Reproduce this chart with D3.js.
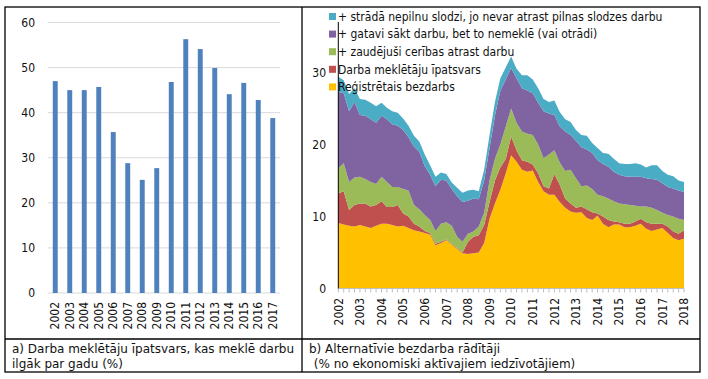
<!DOCTYPE html>
<html>
<head>
<meta charset="utf-8">
<script src="https://cdn.jsdelivr.net/npm/d3@7"></script>
<style>
  body { margin: 0; background: #fff; }
  text { font-family: "DejaVu Sans Condensed", "DejaVu Sans", sans-serif; font-stretch: condensed; fill: #111; }
  .cap { font-family: "DejaVu Sans", sans-serif; font-stretch: normal; }
</style>
</head>
<body>
<div id="chart"></div>
<script>
const width = 708;
const height = 379;

// a) share of jobseekers looking for work longer than a year (%)
const barYears = ["2002", "2003", "2004", "2005", "2006", "2007", "2008", "2009",
                  "2010", "2011", "2012", "2013", "2014", "2015", "2016", "2017"];
const longTermShare = [47.0, 45.0, 45.0, 45.7, 35.7, 28.8, 25.1, 27.7,
                       46.8, 56.3, 54.1, 49.9, 44.1, 46.6, 42.8, 38.8];
const barTicks = [0, 10, 20, 30, 40, 50, 60];

// b) alternative unemployment measures, quarterly 2002Q1 .. 2018Q1
const areaYears = ["2002", "2003", "2004", "2005", "2006", "2007", "2008", "2009", "2010",
                   "2011", "2012", "2013", "2014", "2015", "2016", "2017", "2018"];
const areaTicks = [0, 10, 20, 30];
const registered = [9.1, 8.9, 8.7, 8.6, 8.8, 8.6, 8.4, 8.7, 9.0, 9.0, 8.8, 8.6, 8.7, 8.4, 8.1, 7.9,
                    7.7, 7.5, 6.0, 6.3, 6.7, 6.1, 5.5, 4.9, 4.8, 4.9, 5.0, 6.3, 9.7, 11.8, 13.7, 16.0,
                    18.5, 17.6, 16.5, 16.2, 16.4, 14.8, 13.5, 13.0, 13.0, 12.0, 11.2, 10.7, 10.5, 10.6, 9.8, 9.5,
                    10.1, 9.0, 8.5, 8.9, 8.9, 8.5, 8.5, 8.7, 9.0, 8.3, 8.0, 8.2, 8.4, 7.7, 7.0, 6.7,
                    6.9];
const jobseekers = [4.1, 4.6, 2.2, 3.0, 3.0, 3.2, 3.0, 2.9, 3.1, 2.3, 2.5, 3.0, 1.7, 1.6, 0.9, 0.7,
                    0.3, 0.2, 0.2, 0.2, 0.1, 0.1, 0.1, 0.1, 1.7, 2.3, 2.4, 2.5, 2.3, 3.2, 3.1, 2.0,
                    2.6, 1.6, 1.3, 1.4, 0.8, 1.2, 0.7, 0.9, 2.9, 2.4, 1.3, 1.1, 0.7, 0.8, 1.2, 1.1,
                    0.3, 1.0, 1.0, 0.4, 0.3, 0.5, 0.5, 0.6, 0.7, 0.9, 1.0, 0.8, 0.6, 0.9, 0.9, 0.9,
                    1.2];
const discouraged = [3.5, 3.9, 3.9, 3.8, 3.7, 3.4, 3.4, 2.9, 3.4, 3.5, 2.8, 2.5, 3.4, 3.6, 2.6, 2.4,
                     2.2, 1.8, 1.8, 2.5, 2.4, 2.5, 1.6, 1.5, 1.1, 0.7, 1.2, 1.7, 3.0, 3.0, 3.2, 4.5,
                     3.9, 3.8, 4.0, 3.9, 4.1, 4.0, 3.9, 4.7, 3.3, 3.1, 3.8, 4.7, 4.1, 2.8, 3.3, 3.2,
                     2.6, 2.8, 3.0, 2.8, 2.6, 2.7, 2.6, 2.2, 1.7, 2.2, 2.2, 1.9, 1.5, 1.6, 2.1, 2.1,
                     1.4];
const readyNotSeeking = [10.6, 9.7, 9.8, 10.5, 8.6, 8.8, 8.7, 8.5, 8.5, 8.7, 8.7, 8.5, 8.2, 7.4, 8.1, 8.0,
                         6.8, 6.3, 6.2, 6.1, 5.8, 5.1, 5.6, 5.5, 4.6, 4.6, 3.8, 4.5, 4.5, 6.0, 7.5, 6.5,
                         5.6, 6.2, 6.0, 6.0, 5.8, 5.8, 6.5, 5.7, 4.9, 5.0, 5.5, 4.8, 5.2, 5.4, 5.0, 5.0,
                         4.8, 4.5, 4.4, 4.1, 4.0, 3.9, 3.9, 4.0, 4.1, 3.9, 4.0, 4.2, 4.1, 3.9, 3.9, 3.9,
                         3.9];
const underemployed = [2.1, 1.8, 2.4, 1.9, 2.2, 2.2, 2.3, 2.3, 1.8, 1.6, 1.8, 1.8, 1.6, 1.6, 1.5, 1.4,
                       1.6, 1.3, 1.3, 1.0, 0.9, 0.9, 1.2, 1.3, 1.4, 1.2, 1.1, 1.5, 1.8, 1.9, 1.7, 1.7,
                       1.6, 1.3, 1.8, 2.1, 1.9, 2.0, 1.7, 1.6, 2.0, 2.0, 1.7, 1.8, 1.5, 1.7, 1.9, 1.4,
                       1.7, 1.5, 1.8, 1.8, 1.6, 1.7, 1.8, 1.9, 1.7, 1.5, 1.9, 2.0, 1.7, 1.7, 1.7, 1.4,
                       1.4];
const seriesKeys = ["registered", "jobseekers", "discouraged", "readyNotSeeking", "underemployed"];
const seriesNames = ["Reģistrētais bezdarbs", "Darba meklētāju īpatsvars",
                     "+ zaudējuši cerības atrast darbu",
                     "+ gatavi sākt darbu, bet to nemeklē (vai otrādi)",
                     "+ strādā nepilnu slodzi, jo nevar atrast pilnas slodzes darbu"];
const seriesColors = ["#FFC000", "#C0504D", "#9BBB59", "#8064A2", "#4BACC6"];

const svg = d3.select("#chart")
    .append("svg")
    .attr("width", width)
    .attr("height", height);

// ---------- a) bars ----------
const xBar = d3.scaleBand().domain(barYears).range([48, 280])
    .paddingInner(0.66).paddingOuter(0.33);
const yBar = d3.scaleLinear().domain([0, 60]).range([293, 22.5]);

svg.append("g").selectAll("line")
    .data(barTicks)
    .join("line")
    .attr("x1", 48).attr("x2", 280)
    .attr("y1", d => yBar(d)).attr("y2", d => yBar(d))
    .attr("stroke", "#D9D9D9").attr("stroke-width", 1);

svg.append("g").selectAll("text")
    .data(barTicks)
    .join("text")
    .attr("x", 35).attr("y", d => yBar(d))
    .attr("dy", "0.35em")
    .attr("text-anchor", "end")
    .attr("font-size", 12)
    .text(d => d);

svg.append("g").selectAll("rect")
    .data(longTermShare)
    .join("rect")
    .attr("x", (d, i) => xBar(barYears[i]))
    .attr("width", xBar.bandwidth())
    .attr("y", d => yBar(d))
    .attr("height", d => yBar(0) - yBar(d))
    .attr("fill", "#4F81BD");

svg.append("g").selectAll("text")
    .data(barYears)
    .join("text")
    .attr("transform", d => `translate(${xBar(d) + xBar.bandwidth() / 2},302) rotate(-90)`)
    .attr("text-anchor", "end")
    .attr("dy", "0.35em")
    .attr("font-size", 12)
    .text(d => d);

// ---------- b) stacked areas ----------
const quarters = d3.range(registered.length).map(i => 2002 + i / 4);
const table = quarters.map((q, i) => ({
    t: q,
    registered: registered[i],
    jobseekers: jobseekers[i],
    discouraged: discouraged[i],
    readyNotSeeking: readyNotSeeking[i],
    underemployed: underemployed[i]
}));
const stacked = d3.stack().keys(seriesKeys)(table);

const xArea = d3.scaleLinear().domain([2002, 2018]).range([338.3, 684]);
const yArea = d3.scaleLinear().domain([0, 37]).range([288.5, 22]);

const area = d3.area()
    .x(d => xArea(d.data.t))
    .y0(d => yArea(d[0]))
    .y1(d => yArea(d[1]));

svg.append("g").selectAll("path")
    .data(stacked)
    .join("path")
    .attr("d", area)
    .attr("fill", (d, i) => seriesColors[i]);

// x axis with quarterly minor ticks
svg.append("line")
    .attr("x1", xArea(2002)).attr("x2", xArea(2018))
    .attr("y1", yArea(0)).attr("y2", yArea(0))
    .attr("stroke", "#BFBFBF");
svg.append("g").selectAll("line")
    .data(quarters)
    .join("line")
    .attr("x1", d => xArea(d)).attr("x2", d => xArea(d))
    .attr("y1", yArea(0)).attr("y2", yArea(0) + 4)
    .attr("stroke", "#BFBFBF");

svg.append("g").selectAll("text")
    .data(areaYears)
    .join("text")
    .attr("transform", d => `translate(${xArea(+d)},298) rotate(-90)`)
    .attr("text-anchor", "end")
    .attr("dy", "0.35em")
    .attr("font-size", 12)
    .text(d => d);

// y axis
svg.append("line")
    .attr("x1", xArea(2002)).attr("x2", xArea(2002))
    .attr("y1", yArea(37)).attr("y2", yArea(0))
    .attr("stroke", "#000");
svg.append("g").selectAll("text")
    .data(areaTicks)
    .join("text")
    .attr("x", 326).attr("y", d => yArea(d))
    .attr("dy", "0.35em")
    .attr("text-anchor", "end")
    .attr("font-size", 12)
    .text(d => d);

// legend (top to bottom = reverse stacking order)
const legendOrder = d3.range(seriesKeys.length).reverse();
const legend = svg.append("g").selectAll("g")
    .data(legendOrder)
    .join("g")
    .attr("transform", (d, i) => `translate(329,${16.5 + i * 17.6})`);
legend.append("rect")
    .attr("x", 0).attr("y", -3.5)
    .attr("width", 7).attr("height", 7)
    .attr("fill", d => seriesColors[d]);
legend.append("text")
    .attr("x", 9).attr("dy", "0.35em")
    .attr("font-size", 12)
    .text(d => seriesNames[d]);

// ---------- table frame and captions ----------
const frame = svg.append("g").attr("stroke", "#000").attr("stroke-width", 1.3).attr("fill", "none");
frame.append("rect").attr("x", 5).attr("y", 7).attr("width", 695).attr("height", 365);
frame.append("line").attr("x1", 302).attr("x2", 302).attr("y1", 7).attr("y2", 372);
frame.append("line").attr("x1", 5).attr("x2", 700).attr("y1", 339).attr("y2", 339);

svg.append("text").attr("class", "cap").attr("x", 12).attr("y", 353).attr("font-size", 12)
    .text("a) Darba meklētāju īpatsvars, kas meklē darbu");
svg.append("text").attr("class", "cap").attr("x", 12).attr("y", 368).attr("font-size", 12)
    .text("ilgāk par gadu (%)");
svg.append("text").attr("class", "cap").attr("x", 309).attr("y", 353).attr("font-size", 12)
    .text("b) Alternatīvie bezdarba rādītāji");
svg.append("text").attr("class", "cap").attr("x", 310).attr("y", 368).attr("font-size", 12)
    .attr("xml:space", "preserve")
    .text(" (% no ekonomiski aktīvajiem iedzīvotājiem)");
</script>
</body>
</html>
